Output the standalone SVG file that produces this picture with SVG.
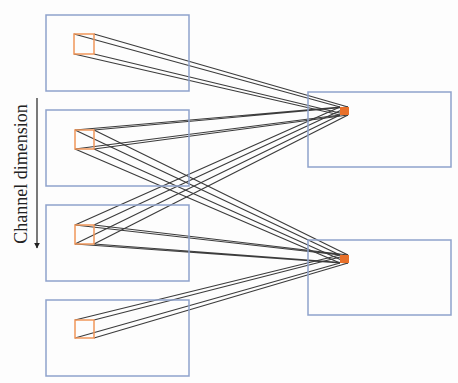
<svg xmlns="http://www.w3.org/2000/svg" width="458" height="383" viewBox="0 0 458 383">
<style>
.box{fill:none;stroke:#8ea2cc;stroke-width:1.5}
.sq{fill:none;stroke:#f0965a;stroke-width:1.5}
.tgt{fill:#e8702a;stroke:none}
.ln{stroke:#3c3c3c;stroke-width:1.2;fill:none}
.lbl{font-family:"Liberation Serif","DejaVu Serif",serif;font-size:18px;fill:#222}
</style>
<defs>
<marker id="ah" viewBox="0 0 10 10" refX="9" refY="5" markerWidth="6" markerHeight="8" orient="auto" markerUnits="userSpaceOnUse">
<path d="M0,0 L10,5 L0,10 z" fill="#222"/>
</marker>
</defs>
<rect width="458" height="383" fill="#fdfdfd"/>
<g id="connectors">
<path class="ln" d="M74,34 L340,107 M94,34 L348,107 M74,54 L340,115 M94,54 L348,115"/>
<path class="ln" d="M75,130 L340,107 M94,130 L348,107 M75,149 L340,115 M94,149 L348,115"/>
<path class="ln" d="M75,130 L340,255 M94,130 L348,255 M75,149 L340,263 M94,149 L348,263"/>
<path class="ln" d="M75,225 L340,107 M94,225 L348,107 M75,244 L340,115 M94,244 L348,115"/>
<path class="ln" d="M75,225 L340,255 M94,225 L348,255 M75,244 L340,263 M94,244 L348,263"/>
<path class="ln" d="M75,320 L340,255 M94,320 L348,255 M75,338 L340,263 M94,338 L348,263"/>
</g>
<g id="in1"><rect class="box" x="46" y="15" width="143" height="76"/><rect class="sq" x="74" y="34" width="20" height="20"/></g>
<g id="in2"><rect class="box" x="46" y="110" width="143" height="76"/><rect class="sq" x="75" y="130" width="19" height="19"/></g>
<g id="in3"><rect class="box" x="46" y="205" width="143" height="76"/><rect class="sq" x="75" y="225" width="19" height="19"/></g>
<g id="in4"><rect class="box" x="46" y="300" width="143" height="76"/><rect class="sq" x="75" y="320" width="19" height="18"/></g>
<g id="out1"><rect class="box" x="308" y="92" width="143" height="75"/><rect class="tgt" x="340" y="107" width="9" height="8"/></g>
<g id="out2"><rect class="box" x="308" y="240" width="143" height="75"/><rect class="tgt" x="340" y="255" width="9" height="8"/></g>
<g id="axis">
<line x1="37" y1="98" x2="37" y2="248" stroke="#222" stroke-width="1.2" marker-end="url(#ah)"/>
<text class="lbl" transform="translate(27,174) rotate(-90)" text-anchor="middle">Channel dimension</text>
</g>
</svg>
